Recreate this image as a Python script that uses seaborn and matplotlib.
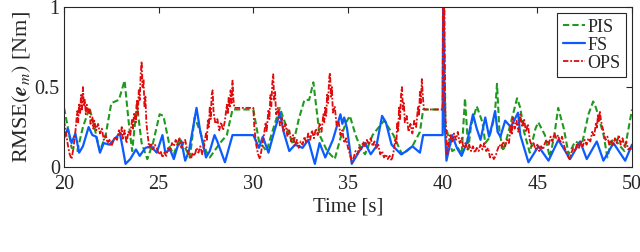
import matplotlib
matplotlib.use('Agg')
import matplotlib.pyplot as plt
import seaborn as sns
import pandas as pd

# FS (blue, solid): (time [s], RMSE [Nm])
fs_pts = [
    (20.0, 0.18), (20.2, 0.24), (20.4, 0.15), (20.6, 0.21), (20.8, 0.09), (21.0, 0.13),
    (21.3, 0.25), (21.5, 0.20), (21.7, 0.19), (21.9, 0.09), (22.1, 0.15), (22.4, 0.14),
    (22.7, 0.18), (22.95, 0.21), (23.1, 0.12), (23.25, 0.02), (23.5, 0.05), (23.8, 0.11),
    (24.0, 0.07), (24.3, 0.12), (24.6, 0.13), (24.9, 0.09), (25.2, 0.20), (25.35, 0.09),
    (25.6, 0.11), (25.8, 0.05), (26.0, 0.13), (26.2, 0.16), (26.4, 0.04), (26.6, 0.10),
    (27.0, 0.37), (27.2, 0.22), (27.5, 0.06), (27.7, 0.10), (27.95, 0.20), (28.1, 0.16),
    (28.5, 0.03), (28.9, 0.20), (30.0, 0.20), (30.3, 0.12), (30.5, 0.19), (30.8, 0.09),
    (31.1, 0.22), (31.4, 0.34), (31.6, 0.22), (31.9, 0.10), (32.2, 0.14), (32.6, 0.12),
    (32.9, 0.17), (33.25, 0.02), (33.5, 0.15), (33.8, 0.06), (34.2, 0.17), (34.4, 0.25),
    (34.6, 0.33), (34.7, 0.27), (34.8, 0.31), (34.95, 0.24), (35.2, 0.02), (35.6, 0.10),
    (35.9, 0.15), (36.2, 0.08), (36.5, 0.13), (36.8, 0.32), (37.0, 0.28), (37.3, 0.14),
    (37.8, 0.08), (38.1, 0.10), (38.4, 0.13), (38.8, 0.09), (38.97, 0.20), (40.0, 0.20),
    (40.03, 1.20), (40.1, 0.30), (40.2, 0.04), (40.5, 0.20), (40.75, 0.12), (41.0, 0.07),
    (41.3, 0.16), (41.6, 0.33), (41.8, 0.24), (42.0, 0.17), (42.25, 0.31), (42.45, 0.19),
    (42.6, 0.26), (42.77, 0.35), (42.9, 0.22), (43.05, 0.19), (43.3, 0.29), (43.6, 0.25),
    (43.98, 0.34), (44.1, 0.20), (44.53, 0.03), (45.06, 0.13), (45.59, 0.04), (46.11, 0.17),
    (46.73, 0.05), (47.26, 0.16), (47.61, 0.05), (48.14, 0.16), (48.49, 0.04), (49.02, 0.15),
    (49.64, 0.04), (50.0, 0.14),
]

# PIS (green, dashed)
pis_pts = [
    (20.0, 0.37), (20.15, 0.28), (20.4, 0.12), (20.7, 0.10), (21.0, 0.25), (21.35, 0.37),
    (21.6, 0.25), (21.9, 0.10), (22.2, 0.20), (22.5, 0.40), (22.9, 0.42), (23.2, 0.54),
    (23.4, 0.30), (23.6, 0.10), (23.85, 0.39), (24.1, 0.15), (24.4, 0.05), (24.7, 0.15),
    (25.05, 0.33), (25.25, 0.32), (25.6, 0.12), (25.8, 0.08), (26.1, 0.18), (26.4, 0.12),
    (26.65, 0.06), (26.9, 0.31), (27.2, 0.22), (27.5, 0.10), (27.7, 0.06), (28.24, 0.15),
    (28.6, 0.20), (28.9, 0.36), (30.0, 0.36), (30.3, 0.16), (30.7, 0.10), (31.0, 0.22),
    (31.4, 0.37), (31.9, 0.20), (32.1, 0.14), (32.4, 0.30), (32.7, 0.42), (32.95, 0.42),
    (33.17, 0.53), (33.5, 0.20), (33.9, 0.10), (34.3, 0.05), (34.6, 0.18), (34.9, 0.28),
    (35.1, 0.32), (35.4, 0.20), (35.7, 0.11), (35.9, 0.08), (36.3, 0.20), (36.9, 0.29),
    (37.4, 0.20), (37.85, 0.08), (38.4, 0.13), (38.8, 0.22), (38.97, 0.36), (40.0, 0.36),
    (40.04, 1.20), (40.15, 0.26), (40.5, 0.10), (40.8, 0.12), (41.0, 0.08), (41.18, 0.43),
    (41.35, 0.11), (41.5, 0.26), (41.8, 0.38), (42.1, 0.28), (42.25, 0.15), (42.45, 0.18),
    (42.75, 0.32), (42.87, 0.52), (43.0, 0.22), (43.2, 0.10), (43.5, 0.23), (43.93, 0.43),
    (44.1, 0.37), (44.3, 0.22), (44.6, 0.09), (44.9, 0.24), (45.05, 0.28), (45.4, 0.20),
    (45.66, 0.06), (45.9, 0.20), (46.1, 0.37), (46.4, 0.24), (46.65, 0.08), (47.0, 0.16),
    (47.35, 0.14), (47.7, 0.33), (47.95, 0.41), (48.1, 0.37), (48.5, 0.20), (48.7, 0.06),
    (48.9, 0.16), (49.1, 0.18), (49.3, 0.14), (49.6, 0.10), (50.0, 0.36),
]

# OPS (red, dash-dot), noisy
ops_pts = [
    (20.0, 0.29), (20.1, 0.22), (20.2, 0.14), (20.3, 0.08), (20.4, 0.05), (20.5, 0.12),
    (20.6, 0.22), (20.7, 0.35), (20.75, 0.28), (20.8, 0.40), (20.85, 0.33), (20.9, 0.45),
    (20.95, 0.36), (21.0, 0.50), (21.05, 0.38), (21.1, 0.42), (21.15, 0.33), (21.2, 0.39),
    (21.3, 0.34), (21.35, 0.37), (21.4, 0.27), (21.5, 0.31), (21.55, 0.24), (21.6, 0.29),
    (21.7, 0.23), (21.8, 0.27), (21.9, 0.21), (22.0, 0.24), (22.1, 0.17), (22.2, 0.20),
    (22.3, 0.15), (22.4, 0.17), (22.5, 0.13), (22.6, 0.16), (22.7, 0.19), (22.8, 0.17),
    (22.9, 0.23), (23.0, 0.20), (23.05, 0.25), (23.1, 0.17), (23.2, 0.23), (23.3, 0.15),
    (23.4, 0.22), (23.5, 0.20), (23.6, 0.30), (23.65, 0.24), (23.7, 0.34), (23.8, 0.28),
    (23.85, 0.42), (23.9, 0.33), (23.95, 0.48), (24.0, 0.42), (24.05, 0.58), (24.1, 0.66),
    (24.15, 0.50), (24.2, 0.55), (24.25, 0.38), (24.3, 0.44), (24.35, 0.28), (24.4, 0.22),
    (24.5, 0.12), (24.6, 0.15), (24.7, 0.11), (24.8, 0.14), (24.9, 0.12), (25.0, 0.08),
    (25.1, 0.10), (25.2, 0.06), (25.3, 0.09), (25.4, 0.07), (25.5, 0.12), (25.6, 0.10),
    (25.7, 0.15), (25.8, 0.13), (25.9, 0.17), (26.0, 0.14), (26.1, 0.18), (26.2, 0.12),
    (26.3, 0.15), (26.4, 0.17), (26.5, 0.11), (26.6, 0.08), (26.7, 0.05), (26.8, 0.09),
    (26.9, 0.07), (27.0, 0.12), (27.1, 0.09), (27.2, 0.13), (27.3, 0.08), (27.4, 0.14),
    (27.5, 0.21), (27.55, 0.17), (27.6, 0.30), (27.65, 0.25), (27.7, 0.38), (27.75, 0.30),
    (27.8, 0.45), (27.85, 0.48), (27.9, 0.34), (28.0, 0.27), (28.1, 0.30), (28.2, 0.23),
    (28.3, 0.28), (28.4, 0.23), (28.5, 0.29), (28.6, 0.39), (28.65, 0.33), (28.7, 0.44),
    (28.75, 0.37), (28.8, 0.48), (28.85, 0.40), (28.9, 0.54), (28.95, 0.42), (29.0, 0.37),
    (30.0, 0.37), (30.05, 0.25), (30.15, 0.14), (30.25, 0.08), (30.35, 0.05), (30.45, 0.12),
    (30.55, 0.19), (30.65, 0.28), (30.7, 0.22), (30.8, 0.36), (30.85, 0.30), (30.9, 0.45),
    (30.95, 0.38), (31.0, 0.52), (31.05, 0.58), (31.1, 0.42), (31.15, 0.47), (31.2, 0.33),
    (31.3, 0.37), (31.4, 0.26), (31.5, 0.31), (31.6, 0.22), (31.7, 0.27), (31.8, 0.19),
    (31.9, 0.23), (32.0, 0.16), (32.1, 0.20), (32.2, 0.13), (32.3, 0.17), (32.4, 0.12),
    (32.5, 0.16), (32.6, 0.14), (32.7, 0.19), (32.8, 0.15), (32.9, 0.21), (33.0, 0.17),
    (33.1, 0.23), (33.2, 0.18), (33.3, 0.24), (33.4, 0.20), (33.5, 0.27), (33.6, 0.22),
    (33.7, 0.33), (33.75, 0.28), (33.8, 0.38), (33.85, 0.32), (33.9, 0.46), (33.95, 0.40),
    (34.0, 0.55), (34.05, 0.59), (34.1, 0.44), (34.15, 0.50), (34.2, 0.34), (34.3, 0.38),
    (34.4, 0.26), (34.5, 0.29), (34.6, 0.20), (34.7, 0.23), (34.8, 0.15), (34.9, 0.18),
    (35.0, 0.12), (35.1, 0.08), (35.2, 0.03), (35.3, 0.06), (35.4, 0.10), (35.5, 0.08),
    (35.6, 0.13), (35.7, 0.11), (35.8, 0.16), (35.9, 0.13), (36.0, 0.17), (36.1, 0.14),
    (36.2, 0.18), (36.3, 0.13), (36.4, 0.16), (36.5, 0.12), (36.6, 0.14), (36.7, 0.08),
    (36.8, 0.10), (36.9, 0.06), (37.0, 0.08), (37.1, 0.05), (37.2, 0.07), (37.3, 0.04),
    (37.4, 0.09), (37.5, 0.18), (37.55, 0.14), (37.6, 0.28), (37.65, 0.22), (37.7, 0.38),
    (37.75, 0.30), (37.8, 0.45), (37.85, 0.50), (37.9, 0.36), (37.95, 0.40), (38.0, 0.28),
    (38.1, 0.32), (38.2, 0.22), (38.3, 0.27), (38.4, 0.21), (38.5, 0.29), (38.6, 0.25),
    (38.7, 0.38), (38.75, 0.32), (38.8, 0.47), (38.85, 0.40), (38.9, 0.55), (38.95, 0.45),
    (39.0, 0.37), (39.05, 0.36), (40.0, 0.36), (40.02, 1.25), (40.06, 0.85), (40.09, 1.10),
    (40.12, 0.45), (40.15, 0.30), (40.2, 0.18), (40.25, 0.08), (40.3, 0.14), (40.4, 0.20),
    (40.5, 0.15), (40.6, 0.21), (40.7, 0.17), (40.8, 0.22), (40.9, 0.15), (41.0, 0.18),
    (41.1, 0.12), (41.2, 0.15), (41.3, 0.11), (41.4, 0.14), (41.5, 0.10), (41.6, 0.13),
    (41.7, 0.09), (41.8, 0.12), (41.9, 0.10), (42.0, 0.14), (42.1, 0.11), (42.2, 0.15),
    (42.3, 0.10), (42.4, 0.12), (42.5, 0.06), (42.6, 0.08), (42.7, 0.05), (42.8, 0.07),
    (42.9, 0.11), (43.0, 0.14), (43.1, 0.12), (43.2, 0.16), (43.3, 0.13), (43.4, 0.17),
    (43.5, 0.15), (43.6, 0.26), (43.65, 0.20), (43.7, 0.31), (43.8, 0.24), (43.9, 0.29),
    (44.0, 0.22), (44.1, 0.33), (44.2, 0.25), (44.3, 0.30), (44.4, 0.22), (44.5, 0.27),
    (44.6, 0.17), (44.7, 0.13), (44.8, 0.15), (44.9, 0.11), (45.0, 0.14), (45.1, 0.10),
    (45.2, 0.13), (45.3, 0.11), (45.4, 0.15), (45.5, 0.17), (45.6, 0.14), (45.7, 0.19),
    (45.8, 0.16), (45.9, 0.21), (46.0, 0.18), (46.1, 0.20), (46.2, 0.15), (46.3, 0.19),
    (46.4, 0.14), (46.5, 0.10), (46.6, 0.07), (46.7, 0.05), (46.8, 0.09), (46.9, 0.12),
    (47.0, 0.10), (47.1, 0.15), (47.2, 0.12), (47.3, 0.16), (47.4, 0.13), (47.5, 0.17),
    (47.6, 0.14), (47.7, 0.18), (47.8, 0.16), (47.9, 0.22), (48.0, 0.19), (48.1, 0.28),
    (48.15, 0.24), (48.2, 0.33), (48.25, 0.28), (48.3, 0.35), (48.35, 0.30), (48.4, 0.27),
    (48.5, 0.22), (48.6, 0.17), (48.7, 0.19), (48.8, 0.14), (48.9, 0.17), (49.0, 0.13),
    (49.1, 0.18), (49.2, 0.15), (49.3, 0.20), (49.4, 0.14), (49.5, 0.18), (49.6, 0.13),
    (49.7, 0.16), (49.8, 0.11), (49.9, 0.12), (50.0, 0.10),
]

series_names = ['PIS', 'FS', 'OPS']
x_ticks = [20, 25, 30, 35, 40, 45, 50]
y_ticks = [0, 0.5, 1]
y_tick_labels = ['0', '0.5', '1']

sns.set_theme(style='white')
plt.rcParams['font.family'] = ['Liberation Serif', 'DejaVu Serif']
plt.rcParams['mathtext.fontset'] = 'stix'
text_col = '#262626'

fig, ax = plt.subplots(figsize=(6.4, 2.52), dpi=100)
fig.subplots_adjust(left=0.1, right=0.9875, bottom=0.337, top=0.972)

styles = {
    'PIS': dict(color='#1f9a1f', linestyle=(0, (3.0, 1.5)), linewidth=1.5),
    'FS': dict(color='#0a5cff', linestyle='-', linewidth=1.6),
    'OPS': dict(color='#e00c0c', linestyle=(0, (3, 1, 1, 1)), linewidth=1.3),
}
data = {'PIS': pis_pts, 'FS': fs_pts, 'OPS': ops_pts}

for name in series_names:
    df = pd.DataFrame(data[name], columns=['t', 'v'])
    sns.lineplot(data=df, x='t', y='v', ax=ax, label=name, estimator=None,
                 sort=False, **styles[name])

ax.set_xlim(20, 50)
ax.set_ylim(0, 1)
ax.set_xticks(x_ticks)
ax.set_yticks(y_ticks)
ax.set_yticklabels(y_tick_labels)
ax.tick_params(direction='in', length=4, width=0.8, top=True, right=True,
               labelsize=14.5, colors=text_col)
ax.tick_params(axis='x', pad=6)
ax.tick_params(axis='y', pad=3)
for s in ax.spines.values():
    s.set_color(text_col)
    s.set_linewidth(0.8)

ax.set_xlabel('Time [s]', fontsize=15, color=text_col, labelpad=2)
ax.set_ylabel(r'RMSE$(\boldsymbol{e}_m)$ [Nm]', fontsize=16, color=text_col, labelpad=1)

leg = ax.legend(loc='upper right', fontsize=13, frameon=True, fancybox=False,
                edgecolor=text_col, framealpha=1, handlelength=1.25,
                borderpad=0.3, labelspacing=0.05, handletextpad=0.1,
                borderaxespad=0.35)
leg.get_frame().set_linewidth(0.8)
for t in leg.get_texts():
    t.set_color(text_col)

fig.savefig('out.png', dpi=100)
